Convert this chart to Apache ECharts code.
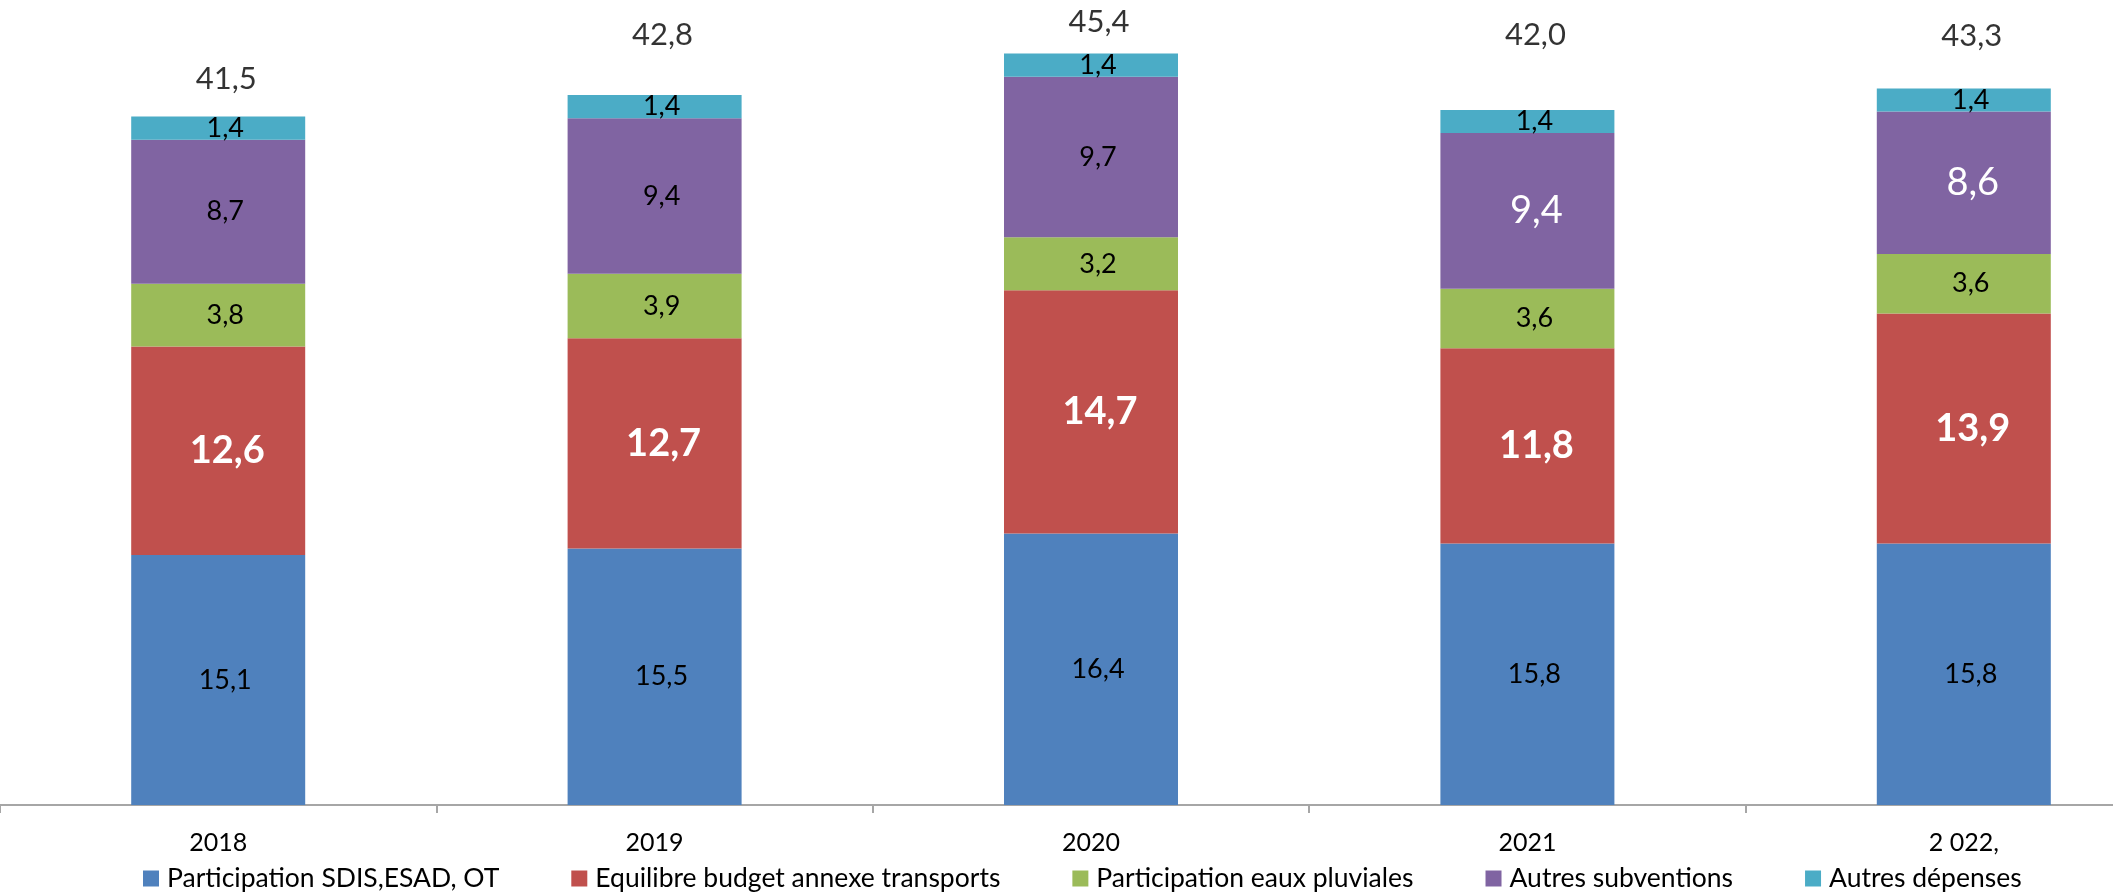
<!DOCTYPE html>
<html>
<head>
<meta charset="utf-8">
<script src="https://cdn.jsdelivr.net/npm/echarts@6/dist/echarts.min.js"></script>
<style>
  html, body { margin: 0; padding: 0; background: #fff; }
  #chart { width: 2113px; height: 892px; }
</style>
</head>
<body>
<div id="chart"></div>
<script>
// données (M€)
const years = ['2018', '2019', '2020', '2021', '2 022,']
const participationSdis = [15.1, 15.5, 16.4, 15.8, 15.8]
const equilibreTransports = [12.6, 12.7, 14.7, 11.8, 13.9]
const eauxPluviales = [3.8, 3.9, 3.2, 3.6, 3.6]
const autresSubventions = [8.7, 9.4, 9.7, 9.4, 8.6]
const autresDepenses = [1.4, 1.4, 1.4, 1.4, 1.4]
const totals = [41.5, 42.8, 45.4, 42.0, 43.3]

const FONT = 'Lato, "Open Sans", sans-serif'
const fmt = v => String(v.toFixed(1)).replace('.', ',')

// hauteur des totaux au-dessus des barres (placés à la main dans l'original)
const totalLift = [24, 46, 16, 59, 37]

const blackLabel = {
  show: true,
  position: 'inside',
  color: '#000',
  fontFamily: FONT,
  fontSize: 27,
  offset: [7, 0],
  formatter: p => fmt(p.value),
}

const makeBar = (name, data, color, label) => ({
  name,
  type: 'bar',
  stack: 'total',
  barWidth: 174,
  data,
  itemStyle: { color },
  label: label || blackLabel,
})

const chart = echarts.init(document.getElementById('chart'))

chart.setOption({
  animation: false,
  backgroundColor: '#fff',
  // la zone de tracé dépasse à droite comme dans l'original
  grid: {
    left: 0,
    width: 2182,
    top: 0,
    bottom: 87,
    containLabel: false,
    outerBoundsMode: 'none',
  },
  legend: {
    data: [
      'Participation SDIS,ESAD, OT',
      'Equilibre budget annexe transports',
      'Participation eaux pluviales',
      'Autres subventions',
      'Autres dépenses',
    ],
    left: 143,
    bottom: 0,
    padding: 0,
    itemWidth: 16,
    itemHeight: 16,
    itemGap: 72,
    icon: 'rect',
    textStyle: { fontFamily: FONT, fontSize: 26.5, color: '#000', padding: [0, 0, 0, 3] },
  },
  xAxis: {
    type: 'category',
    data: years,
    axisLine: { lineStyle: { color: '#a6a6a6', width: 2 } },
    axisTick: { show: true, length: 8, lineStyle: { color: '#a6a6a6', width: 2 } },
    axisLabel: { color: '#000', fontFamily: FONT, fontSize: 25, margin: 25 },
  },
  yAxis: {
    type: 'value',
    min: 0,
    max: 48.64,
    show: false,
    splitLine: { show: false },
  },
  series: [
    makeBar('Participation SDIS,ESAD, OT', participationSdis, '#4f81bd'),
    makeBar('Equilibre budget annexe transports', equilibreTransports, '#c0504d', {
      ...blackLabel,
      color: '#fff',
      fontWeight: 'bold',
      fontSize: 38,
      offset: [9, 0],
    }),
    makeBar('Participation eaux pluviales', eauxPluviales, '#9bbb59'),
    makeBar(
      'Autres subventions',
      autresSubventions.map((v, i) =>
        i >= 3 ? { value: v, label: { color: '#fff', fontSize: 38, offset: [9, 0] } } : v,
      ),
      '#8064a2',
    ),
    makeBar('Autres dépenses', autresDepenses, '#4bacc6'),
    {
      name: 'Total',
      type: 'scatter',
      symbolSize: 0,
      silent: true,
      data: totals.map((v, i) => ({
        value: v,
        label: { offset: [8, -totalLift[i]] },
      })),
      label: {
        show: true,
        position: 'top',
        distance: 0,
        color: '#000',
        fontFamily: FONT,
        fontSize: 31,
        formatter: p => fmt(p.value),
      },
    },
  ],
})
</script>
</body>
</html>
